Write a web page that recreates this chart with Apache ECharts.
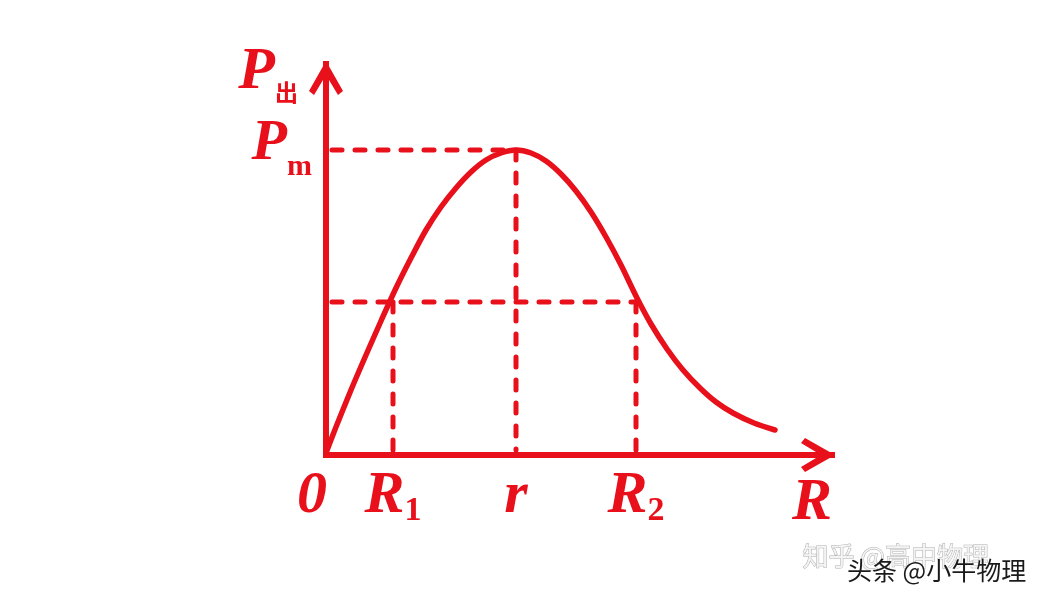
<!DOCTYPE html>
<html><head><meta charset="utf-8">
<script src="https://cdn.jsdelivr.net/npm/echarts@6/dist/echarts.min.js"></script>
<style>html,body{margin:0;padding:0;background:#fff}#c{width:1060px;height:608px}</style>
</head><body><div id="c"></div>
<script>
// Curve P_out vs R (units)
const curveR = [0, 10, 25, 40, 55, 70, 85, 100, 115, 130, 145, 160, 175, 190, 205, 220, 235, 250, 265, 280, 295, 311, 325, 341, 357, 374, 390, 407, 428, 449];
const curveP = [2, 28, 65, 100, 134, 167, 197, 225, 248, 267, 283, 295, 302, 305, 302, 294, 281, 264, 243, 218, 190, 157, 131, 106, 85, 67, 53, 42, 32, 25];
// marked positions: R1, r, R2 on the R axis; Pm and the level at R1/R2 on the P axis
const markR = [67, 190, 310];
const markP = [305, 153];
// tick labels [main, subscript]
const xTickValues = [0, 67, 190, 310];
const xTickLabels = [['0', ''], ['R', '1'], ['r', ''], ['R', '2']];
const yTickValues = [305];
const yTickLabels = [['P', 'm']];
const xName = 'R';
const yName = ['P', '出'];
const watermark1 = '知乎 @高中物理';
const watermark2 = '头条 @小牛物理';

const RED = '#E8101A';
const FONT = 'Liberation Serif';
const arrowPath = 'path://M17,0 L34,30 L29,34 L17,14 L5,34 L0,30 Z';

const curveData = curveR.map((r, i) => [r, curveP[i]]);
const dashStyle = { color: RED, width: 5, type: [10, 13], cap: 'round' };
const dashSeries = [
  [[6, markP[0]], [markR[1], markP[0]]],
  [[markR[1], markP[0]], [markR[1], 5]],
  [[6, markP[1]], [markR[2], markP[1]]],
  [[markR[0], markP[1]], [markR[0], 5]],
  [[markR[2], markP[1]], [markR[2], 5]]
].map(d => ({ type: 'line', data: d, symbol: 'none', silent: true, lineStyle: dashStyle, z: 2 }));

const chart = echarts.init(document.getElementById('c'));
chart.setOption({
  backgroundColor: '#fff',
  animation: false,
  grid: { left: 326, top: 64, width: 506, height: 391 },
  xAxis: {
    type: 'value', min: 0, max: 506,
    splitLine: { show: false },
    axisTick: { show: false },
    axisLine: { onZero: false, lineStyle: { color: RED, width: 6, cap: 'square' }, symbol: ['none', arrowPath], symbolSize: [34, 34], symbolOffset: [0, -14] },
    axisLabel: {
      customValues: xTickValues,
      margin: 6,
      color: RED,
      formatter: v => {
        const k = xTickValues.indexOf(v);
        const t = xTickLabels[k];
        if (!t) return '';
        if (t[0] === '0') return '{z|' + t[0] + '}';
        return '{i|' + t[0] + '}' + (t[1] ? '{s|' + t[1] + '}' : '');
      },
      rich: {
        i: { fontFamily: FONT, fontStyle: 'italic', fontWeight: 'bold', fontSize: 60, lineHeight: 70, color: RED },
        z: { fontFamily: FONT, fontStyle: 'italic', fontWeight: 'bold', fontSize: 60, lineHeight: 70, color: RED, padding: [0, 28, 0, 0] },
        s: { fontFamily: FONT, fontWeight: 'bold', fontSize: 34, lineHeight: 34, color: RED, padding: [30, 0, 0, 0] }
      }
    },
    name: '{i|' + xName + '}',
    nameLocation: 'end',
    nameGap: 0,
    nameTextStyle: {
      align: 'right', verticalAlign: 'middle', padding: [96, 0, 0, 0],
      rich: { i: { fontFamily: FONT, fontStyle: 'italic', fontWeight: 'bold', fontSize: 60, lineHeight: 60, color: RED } }
    }
  },
  yAxis: {
    type: 'value', min: 0, max: 391,
    splitLine: { show: false },
    axisTick: { show: false },
    axisLine: { onZero: false, lineStyle: { color: RED, width: 6, cap: 'square' }, symbol: ['none', arrowPath], symbolSize: [34, 34], symbolOffset: [0, -14] },
    axisLabel: {
      customValues: yTickValues,
      margin: 14,
      align: 'right',
      formatter: v => {
        const t = yTickLabels[yTickValues.indexOf(v)];
        return t ? '{i|' + t[0] + '}{s|' + t[1] + '}' : '';
      },
      rich: {
        i: { fontFamily: FONT, fontStyle: 'italic', fontWeight: 'bold', fontSize: 58, lineHeight: 60, color: RED, padding: [0, 0, 12, 0] },
        s: { fontFamily: FONT, fontWeight: 'bold', fontSize: 30, lineHeight: 30, color: RED, padding: [34, 0, 0, 0] }
      }
    },
    name: '{i|' + yName[0] + '}{s|' + yName[1] + '}',
    nameLocation: 'end',
    nameGap: -8,
    nameTextStyle: {
      align: 'right', verticalAlign: 'middle', padding: [0, 28, 0, 0],
      rich: {
        i: { fontFamily: FONT, fontStyle: 'italic', fontWeight: 'bold', fontSize: 60, lineHeight: 60, color: RED },
        s: { fontFamily: 'Noto Sans CJK SC', fontWeight: 'bold', fontSize: 23, lineHeight: 23, color: RED, padding: [40, 0, 0, 0] }
      }
    }
  },
  series: dashSeries.concat([{
    type: 'line', data: curveData, symbol: 'none', smooth: 0.3, silent: true, z: 3,
    lineStyle: { color: RED, width: 5.5, cap: 'round' }
  }]),
  graphic: [
    { type: 'text', left: 802, top: 543, z: 10, style: { text: watermark1, font: '26px "Noto Sans CJK SC"', fill: '#f4f4f4', stroke: 'rgba(120,120,120,0.6)', lineWidth: 1 } },
    { type: 'text', left: 847, top: 558, z: 11, style: { text: watermark2, font: '25px "Noto Sans CJK SC"', fill: '#1a1a1a', textShadowColor: 'rgba(255,255,255,0.9)', textShadowBlur: 2, textShadowOffsetX: 1, textShadowOffsetY: 1 } }
  ]
});
</script></body></html>
